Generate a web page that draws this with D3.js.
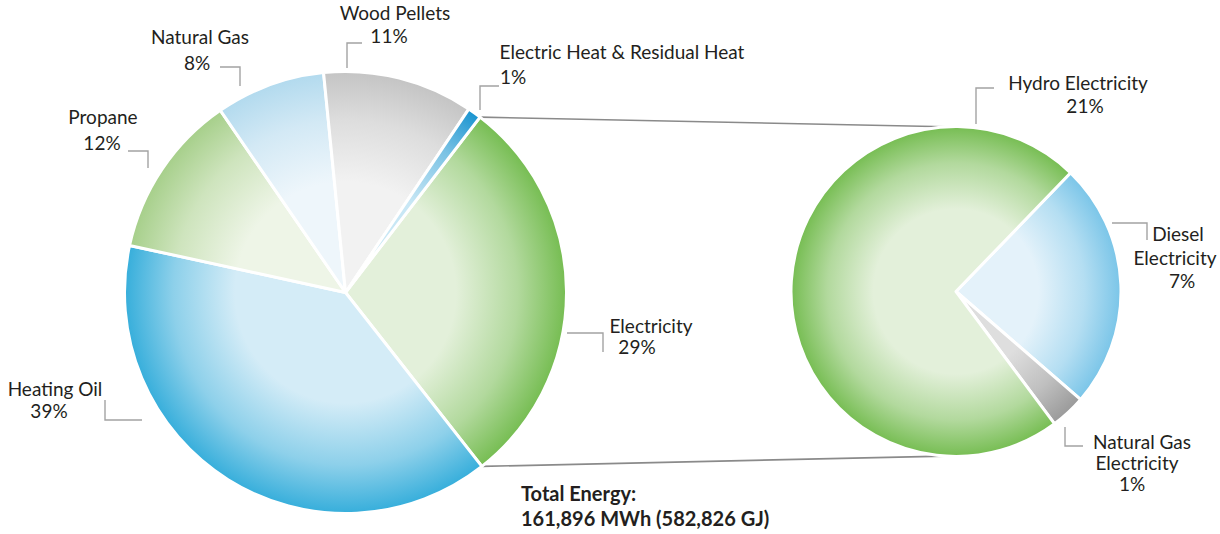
<!DOCTYPE html>
<html>
<head>
<meta charset="utf-8">
<script src="https://cdn.jsdelivr.net/npm/d3@7"></script>
<style>
  html, body { margin: 0; padding: 0; background: #fff; }
  svg { display: block; }
  text { font-family: Lato, "Open Sans", sans-serif; fill: #231f20; }
</style>
</head>
<body>
<svg id="chart" width="1220" height="534"></svg>
<script>
// Energy use by source (share of total, %)
const sourceNames  = ["Electricity", "Heating Oil", "Propane", "Natural Gas", "Wood Pellets", "Electric Heat & Residual Heat"];
const sourceShares = [29, 39, 12, 8, 11, 1];

// Electricity broken down by generation type (share of total, %)
const elecNames  = ["Diesel Electricity", "Natural Gas Electricity", "Hydro Electricity"];
const elecShares = [7, 1, 21];

const totalLines = ["Total Energy:", "161,896 MWh (582,826 GJ)"];

// ---- styling ----
const sourceColors = {
  "Electricity":                   ["#e3f0da", "#76bd52"],
  "Heating Oil":                   ["#d4ecf7", "#36aedb"],
  "Propane":                       ["#eef5e7", "#a6cf8a"],
  "Natural Gas":                   ["#eef6fb", "#b2daee"],
  "Wood Pellets":                  ["#f2f2f2", "#c4c4c4"],
  "Electric Heat & Residual Heat": ["#c8e7f5", "#1a94d0"]
};
const elecColors = {
  "Hydro Electricity":       ["#e3f0da", "#76bd52"],
  "Diesel Electricity":      ["#e4f2fa", "#7ac5e8"],
  "Natural Gas Electricity": ["#dedede", "#9a9a9a"]
};

// ---- label layout: text lines (text, centre x, baseline y) and leader elbows ----
const sourceLabels = {
  "Electricity":   { lines: [["Electricity", 651, 333], ["%", 637, 354]],
                     leader: [[567, 333], [603, 333], [603, 352]] },
  "Heating Oil":   { lines: [["Heating Oil", 55, 396], ["%", 49, 418]],
                     leader: [[105, 400], [105, 420], [142, 420]] },
  "Propane":       { lines: [["Propane", 103, 124], ["%", 102, 150]],
                     leader: [[128, 151], [148, 151], [148, 168]] },
  "Natural Gas":   { lines: [["Natural Gas", 200, 44], ["%", 197, 70]],
                     leader: [[220, 67], [240, 67], [240, 86]] },
  "Wood Pellets":  { lines: [["Wood Pellets", 395, 20], ["%", 389, 43]],
                     leader: [[347, 68], [347, 43], [362, 43]] },
  "Electric Heat & Residual Heat":
                   { lines: [["Electric Heat & Residual Heat", 622, 59], ["%", 513, 84]],
                     leader: [[480, 110], [480, 86], [499, 86]] }
};
const elecLabels = {
  "Hydro Electricity":       { lines: [["Hydro Electricity", 1078, 90], ["%", 1085, 113]],
                               leader: [[976, 124], [976, 88], [994, 88]] },
  "Diesel Electricity":      { lines: [["Diesel", 1178, 241], ["Electricity", 1175, 265], ["%", 1182, 288]],
                               leader: [[1112, 223], [1147, 223], [1147, 240]] },
  "Natural Gas Electricity": { lines: [["Natural Gas", 1142, 449], ["Electricity", 1137, 470], ["%", 1132, 491]],
                               leader: [[1065, 427], [1065, 446], [1083, 446]] }
};

const deg = Math.PI / 180;
const svg = d3.select("#chart");
const defs = svg.append("defs");

const left  = { cx: 345.5, cy: 292.5, r: 221, start: 37.5 * deg };
const right = { cx: 956,   cy: 291.5, r: 165, start: 44 * deg };

// point on a pie rim, angle measured clockwise from 12 o'clock
const pt = (cfg, ang) => [cfg.cx + cfg.r * Math.sin(ang), cfg.cy - cfg.r * Math.cos(ang)];

function drawPie(cfg, names, values, colors, labels, idPrefix) {
  const data = names.map((n, i) => ({ name: n, value: values[i] }));
  const arcs = d3.pie().sort(null).value(d => d.value)
    .startAngle(cfg.start).endAngle(cfg.start + 2 * Math.PI)(data);

  // radial shading from pale centre to full colour at the rim
  arcs.forEach((a, i) => {
    const [inner, outer] = colors[a.data.name];
    const g = defs.append("radialGradient")
      .attr("id", idPrefix + i)
      .attr("gradientUnits", "userSpaceOnUse")
      .attr("cx", cfg.cx).attr("cy", cfg.cy).attr("r", cfg.r);
    g.append("stop").attr("offset", 0).attr("stop-color", inner);
    g.append("stop").attr("offset", 0.5).attr("stop-color", inner);
    g.append("stop").attr("offset", 0.78).attr("stop-color", d3.interpolateRgb(inner, outer)(0.45));
    g.append("stop").attr("offset", 1).attr("stop-color", outer);
  });

  // slices in page coordinates so the gradients line up with the pie centre
  const arc = d3.arc().innerRadius(0).outerRadius(cfg.r);
  svg.append("g")
    .selectAll("path").data(arcs).join("path")
    .attr("d", d => {
      const p = d3.path();
      const a0 = d.startAngle - Math.PI / 2, a1 = d.endAngle - Math.PI / 2;
      p.moveTo(cfg.cx, cfg.cy);
      p.lineTo(...pt(cfg, d.startAngle));
      p.arc(cfg.cx, cfg.cy, cfg.r, a0, a1);
      p.closePath();
      return p.toString();
    })
    .attr("fill", (d, i) => `url(#${idPrefix}${i})`)
    .attr("stroke", "#fff").attr("stroke-width", 3).attr("stroke-linejoin", "round");

  // labels with leader elbows
  const line = d3.line();
  arcs.forEach(a => {
    const lab = labels[a.data.name];
    svg.append("path").attr("d", line(lab.leader))
      .attr("fill", "none").attr("stroke", "#a3a3a3").attr("stroke-width", 1.4);
    lab.lines.forEach(([t, x, y]) => {
      svg.append("text")
        .attr("x", x).attr("y", y)
        .attr("text-anchor", "middle")
        .attr("font-size", 19)
        .text(t === "%" ? a.data.value + "%" : t);
    });
  });
  return arcs;
}

// connector lines from the Electricity slice to the breakdown pie
const lArcs = d3.pie().sort(null).value(d => d)
  .startAngle(left.start).endAngle(left.start + 2 * Math.PI)(sourceShares);
const elecArc = lArcs[sourceNames.indexOf("Electricity")];
const connectors = [
  [pt(left, elecArc.startAngle), pt(right, -3.5 * deg)],
  [pt(left, elecArc.endAngle),   pt(right, 184 * deg)]
];
svg.selectAll("line.conn").data(connectors).join("line")
  .attr("class", "conn")
  .attr("x1", d => d[0][0]).attr("y1", d => d[0][1])
  .attr("x2", d => d[1][0]).attr("y2", d => d[1][1])
  .attr("stroke", "#8a8a8a").attr("stroke-width", 1.6);

drawPie(left, sourceNames, sourceShares, sourceColors, sourceLabels, "gl");
drawPie(right, elecNames, elecShares, elecColors, elecLabels, "gr");

// total energy caption
svg.append("text")
  .attr("x", 521).attr("y", 501)
  .attr("font-size", 20).attr("font-weight", 700)
  .selectAll("tspan").data(totalLines).join("tspan")
  .attr("x", 521).attr("dy", (d, i) => i === 0 ? 0 : 25)
  .text(d => d);
</script>
</body>
</html>
